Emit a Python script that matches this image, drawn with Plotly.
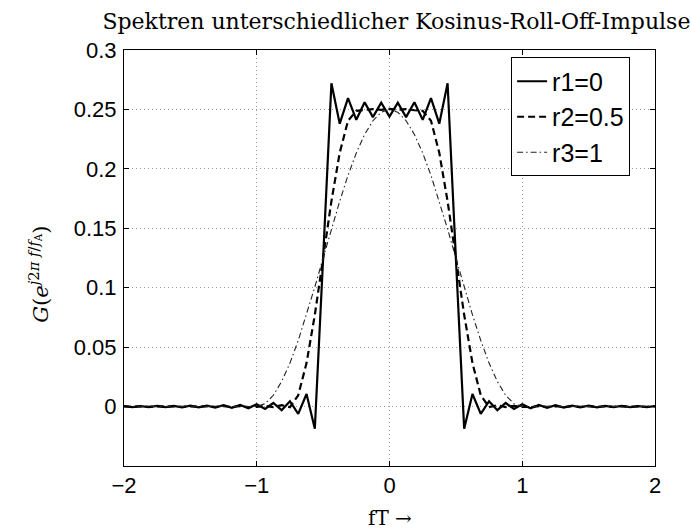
import plotly.graph_objects as go

# sample positions fT
x_ft = [-2.0, -1.9375, -1.875, -1.8125, -1.75, -1.6875, -1.625, -1.5625,
        -1.5, -1.4375, -1.375, -1.3125, -1.25, -1.1875, -1.125, -1.0625,
        -1.0, -0.9375, -0.875, -0.8125, -0.75, -0.6875, -0.625, -0.5625,
        -0.5, -0.4375, -0.375, -0.3125, -0.25, -0.1875, -0.125, -0.0625,
        0.0,
        0.0625, 0.125, 0.1875, 0.25, 0.3125, 0.375, 0.4375, 0.5,
        0.5625, 0.625, 0.6875, 0.75, 0.8125, 0.875, 0.9375, 1.0,
        1.0625, 1.125, 1.1875, 1.25, 1.3125, 1.375, 1.4375, 1.5,
        1.5625, 1.625, 1.6875, 1.75, 1.8125, 1.875, 1.9375, 2.0]

# r1 = 0
g_r1 = [0.0003, -0.0004, 0.0004, -0.0004, 0.0005, -0.0005, 0.0006, -0.0006,
        0.0007, -0.0007, 0.0008, -0.0009, 0.0011, -0.0011, 0.0014, -0.0015,
        0.0020, -0.0020, 0.0030, -0.0030, 0.0045, -0.0062, 0.0106, -0.0187,
        0.125, 0.272, 0.238, 0.2595, 0.2413, 0.256, 0.2435, 0.2556,
        0.244,
        0.2556, 0.2435, 0.256, 0.2413, 0.2595, 0.238, 0.272, 0.125,
        -0.0187, 0.0106, -0.0062, 0.0045, -0.0030, 0.0030, -0.0020, 0.0020,
        -0.0015, 0.0014, -0.0011, 0.0011, -0.0009, 0.0008, -0.0007, 0.0007,
        -0.0006, 0.0006, -0.0005, 0.0005, -0.0004, 0.0004, -0.0004, 0.0003]

# r2 = 0.5
g_r2 = [0.0002, -0.0002, 0.0002, -0.0002, 0.0002, -0.0002, 0.0002, -0.0002,
        0.0002, -0.0002, 0.0003, -0.0003, 0.0003, -0.0003, 0.0004, -0.0004,
        -0.0002, 0.0006, -0.0004, 0.0012, -0.0005, 0.0095, 0.0366, 0.0772,
        0.125, 0.1728, 0.2135, 0.2405, 0.2488, 0.2493, 0.2503, 0.2497,
        0.2505,
        0.2497, 0.2503, 0.2493, 0.2488, 0.2405, 0.2135, 0.1728, 0.125,
        0.0772, 0.0366, 0.0095, -0.0005, 0.0012, -0.0004, 0.0006, -0.0002,
        -0.0004, 0.0004, -0.0003, 0.0003, -0.0003, 0.0003, -0.0002, 0.0002,
        -0.0002, 0.0002, -0.0002, 0.0002, -0.0002, 0.0002, -0.0002, 0.0002]

# r3 = 1
g_r3 = [0.0, 0.0, 0.0, 0.0, 0.0, 0.0, 0.0, 0.0,
        0.0, 0.0, 0.0, 0.0, 0.0, 0.0, 0.0, 0.0,
        0.0, 0.0024, 0.0095, 0.0211, 0.0366, 0.0556, 0.0772, 0.1006,
        0.125, 0.1494, 0.1728, 0.1945, 0.2134, 0.2289, 0.2405, 0.2476,
        0.25,
        0.2476, 0.2405, 0.2289, 0.2134, 0.1945, 0.1728, 0.1494, 0.125,
        0.1006, 0.0772, 0.0556, 0.0366, 0.0211, 0.0095, 0.0024, 0.0,
        0.0, 0.0, 0.0, 0.0, 0.0, 0.0, 0.0, 0.0,
        0.0, 0.0, 0.0, 0.0, 0.0, 0.0, 0.0, 0.0]

series_names = ["r1=0", "r2=0.5", "r3=1"]
x_ticks = [-2, -1, 0, 1, 2]
x_ticktext = ["\u22122", "\u22121", "0", "1", "2"]
y_ticks = [0, 0.05, 0.1, 0.15, 0.2, 0.25, 0.3]
y_ticktext = ["0", "0.05", "0.1", "0.15", "0.2", "0.25", "0.3"]

fig = go.Figure()
fig.add_trace(go.Scatter(x=x_ft, y=g_r1, mode="lines", name=series_names[0],
                         line=dict(color="black", width=2.2)))
fig.add_trace(go.Scatter(x=x_ft, y=g_r2, mode="lines", name=series_names[1],
                         line=dict(color="black", width=2.2, dash="7px,4px")))
fig.add_trace(go.Scatter(x=x_ft, y=g_r3, mode="lines", name=series_names[2],
                         line=dict(color="#222222", width=1.1, dash="6px,3px,1.5px,3px")))

axis_common = dict(showline=True, linecolor="black", linewidth=1, mirror="ticks",
                   ticks="inside", ticklen=5, tickcolor="black", tickwidth=1,
                   showgrid=True, gridcolor="#9a9a9a", griddash="1px,3px", gridwidth=1,
                   zeroline=False,
                   tickfont=dict(family="Liberation Sans, Arial", size=22, color="black"))

fig.update_xaxes(range=[-2, 2], tickvals=x_ticks, ticktext=x_ticktext, **axis_common)
fig.update_yaxes(range=[-0.05, 0.3], tickvals=y_ticks, ticktext=y_ticktext,
                 ticklabelstandoff=2, **axis_common)

fig.update_layout(
    width=691, height=532,
    margin=dict(l=124, r=36, t=49.5, b=66),
    plot_bgcolor="white", paper_bgcolor="white",
    title=dict(text="Spektren unterschiedlicher Kosinus-Roll-Off-Impulse",
               font=dict(family="DejaVu Serif", size=22, color="black"),
               x=0.513, xref="paper", xanchor="center",
               y=1 - 21 / 532, yref="container", yanchor="middle"),
    legend=dict(x=0.729, y=0.982, xanchor="left", yanchor="top",
                bgcolor="white", bordercolor="black", borderwidth=1,
                font=dict(family="Liberation Sans, Arial", size=25, color="black"),
                tracegroupgap=0),
    showlegend=True,
    annotations=[
        dict(text="fT \u2192", xref="paper", yref="paper", x=0.5, y=-0.125,
             xanchor="center", yanchor="middle", showarrow=False,
             font=dict(family="DejaVu Serif", size=20, color="black")),
        dict(text="<i>G</i>(<i>e</i><sup><i>j</i>2<i>\u03c0</i> <i>f</i>/<i>f</i><sub>A</sub></sup>)",
             xref="paper", yref="paper", x=-0.160, y=0.46, textangle=-90,
             xanchor="center", yanchor="middle", showarrow=False,
             font=dict(family="DejaVu Serif", size=21, color="black")),
    ],
)

fig.write_html("out.html")
